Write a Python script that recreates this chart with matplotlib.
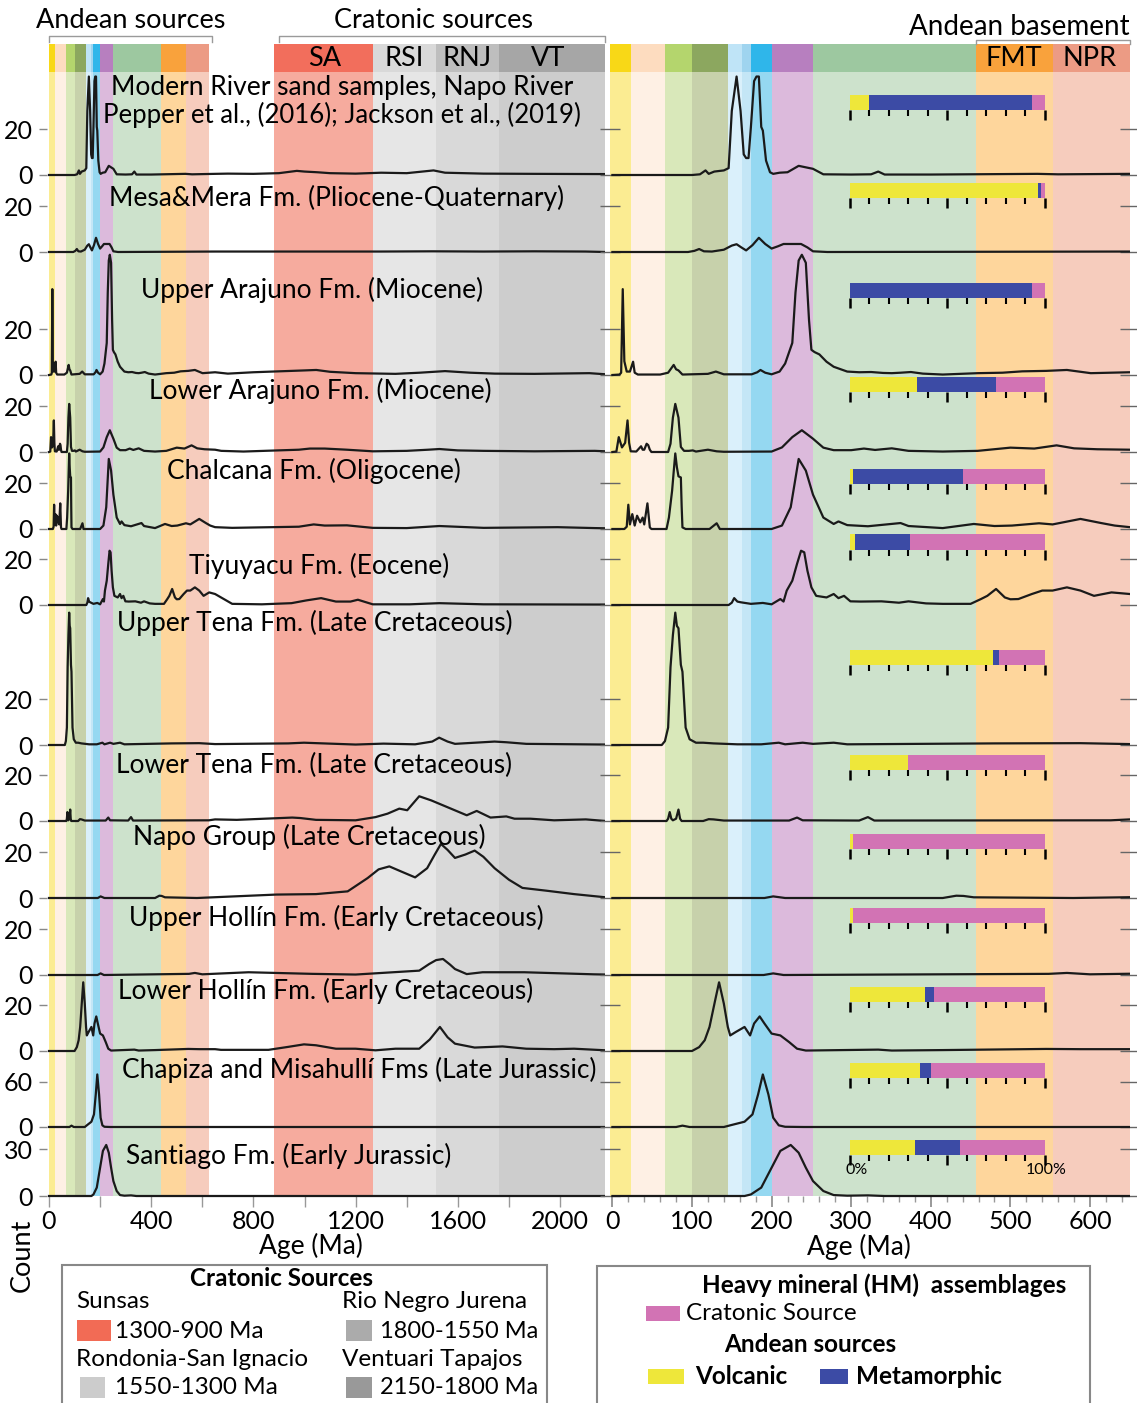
import matplotlib
matplotlib.use("Agg")
import matplotlib.pyplot as plt
from matplotlib.patches import Rectangle
from matplotlib.lines import Line2D
from matplotlib.ticker import FixedLocator

plt.rcParams['font.family'] = ['Lato', 'DejaVu Sans']

# ---------------------------------------------------------------- data
sample_labels = [
    ["Modern River sand samples, Napo River", "Pepper et al., (2016); Jackson et al., (2019)"],
    ["Mesa&Mera Fm. (Pliocene-Quaternary)"],
    ["Upper Arajuno Fm. (Miocene)"],
    ["Lower Arajuno Fm. (Miocene)"],
    ["Chalcana Fm. (Oligocene)"],
    ["Tiyuyacu Fm. (Eocene)"],
    ["Upper Tena Fm. (Late Cretaceous)"],
    ["Lower Tena Fm. (Late Cretaceous)"],
    ["Napo Group (Late Cretaceous)"],
    ["Upper Hollín Fm. (Early Cretaceous)"],
    ["Lower Hollín Fm. (Early Cretaceous)"],
    ["Chapiza and Misahullí Fms (Late Jurassic)"],
    ["Santiago Fm. (Early Jurassic)"],
]
count_ticks = [20, 20, 20, 20, 20, 20, 20, 20, 20, 20, 20, 60, 30]

modern_age = [0, 100, 110, 117, 121, 128, 140, 146, 150, 156, 161, 165, 168, 171, 174, 178, 181, 184, 187, 189, 193,
              198, 202, 210, 220, 234, 245, 252, 265, 300, 325, 334, 342, 400, 534, 560, 650, 700, 800, 900, 970,
              1000, 1050, 1100, 1200, 1300, 1400, 1505, 1550, 1700, 1900, 2180]
modern_cnt = [0, 0, 0.3, 2, 0.5, 1.5, 2, 3, 28, 43, 28, 9, 7.4, 7.4, 21, 41, 43, 43, 21, 19.4, 6.3,
              1.2, 0.5, 1, 1.2, 4, 3.2, 2.7, 0.3, 0.2, 0.3, 1.5, 0.2, 0.2, 0.5, 0.3, 0.5, 0.6, 0.5, 0.8, 1.8,
              1.5, 1.2, 0.8, 0.6, 1, 0.8, 2, 1, 0.6, 0.5, 0.4]

mesa_age = [0, 95, 103, 109, 115, 125, 140, 150, 156, 162, 168, 176, 184, 192, 200, 208, 215, 237, 245, 252, 270,
            650, 1300, 1500, 1700, 1900, 2100, 2180]
mesa_cnt = [0, 0, 0.5, 1.3, 0.3, 0.2, 1, 2.8, 3.4, 2, 0.7, 3, 6.2, 3.5, 1.5, 2.5, 3.5, 3.5, 2, 0.3, 0,
            0.2, 0.2, 0.3, 0.2, 0.3, 0.2, 0]

uarajuno_age = [0, 9, 11, 13, 15, 18, 22, 26, 28, 32, 60, 70, 77, 80, 83, 88, 120, 130, 140, 175, 182, 186, 192,
                200, 210, 217, 222, 226, 230, 234, 238, 243, 247, 250, 254, 260, 269, 278, 295, 310, 325, 340,
                351, 362, 375, 390, 415, 459, 490, 515, 545, 571, 601, 650, 700, 800, 900, 1000, 1046, 1100, 1200,
                1356, 1450, 1550, 1650, 1745, 1900, 2115, 2180]
uarajuno_cnt = [0, 0.2, 1, 37.5, 6, 1.5, 1.5, 5.8, 1, 0.2, 0.2, 1, 4.4, 2.5, 2, 0.2, 0.5, 1.5, 0.3, 0.3, 1.2, 2.2, 1,
                0.3, 1.5, 5, 10, 14, 36, 50, 52.5, 49, 24, 11, 10, 9, 5.8, 3.6, 1.5, 1.2, 1.3, 0.9,
                0.8, 1, 1.3, 0.6, 0.2, 0.8, 1, 1.6, 1.8, 2.2, 0.8, 1.2, 0.6, 1.2, 1.6, 2.0, 2.2, 1.4, 0.8,
                0.5, 1, 1.7, 1, 0.6, 0.5, 0.8, 0.3]

larajuno_age = [0, 5, 8, 12, 16, 19, 21, 23, 30, 36, 38, 40, 43, 45, 47, 49, 70, 73, 76, 79, 83, 86, 90, 96, 101,
                105, 120, 131, 140, 200, 213, 226, 238, 252, 265, 278, 300, 316, 330, 351, 372, 415, 459, 500, 530,
                558, 580, 609, 650, 674, 761, 978, 1021, 1079, 1166, 1267, 1400, 1484, 1528, 1600, 1701, 1900,
                2136, 2180]
larajuno_cnt = [0, 0.2, 6.5, 2, 4, 13.8, 4, 0.3, 0.2, 2.5, 1, 1, 3.6, 3, 1, 0, 0, 3.6, 15, 21, 15, 2.2, 0.5, 0.5, 0.7,
                0.2, 1, 0.3, 0.1, 0.2, 2, 6.5, 9.5, 5.8, 1.9, 0.8, 0.8, 1.5, 0.9, 1.6, 0.5, 0.2, 0.5, 1.9, 1.5,
                2.9, 1.6, 1.2, 1, 0.5, 0.2, 1, 1.5, 1.5, 1, 0.3, 0.5, 1, 1.3, 0.7, 0.5, 0.3,
                0.5, 0.3]

chalcana_age = [0, 15, 18, 20, 22, 25, 28, 31, 35, 38, 40, 44, 47, 49, 68, 71, 75, 77, 79, 81, 83, 86, 87, 88, 92,
                122, 131, 135, 200, 213, 224, 229, 234, 243, 252, 265, 278, 284, 295, 321, 362, 372, 415, 454, 480,
                502, 536, 553, 588, 614, 631, 650, 717, 978, 1036, 1079, 1166, 1267, 1400, 1528, 1701, 1991, 2136,
                2180]
chalcana_cnt = [0, 0, 1, 10.6, 2, 6.5, 1.5, 5.8, 2.9, 5, 2, 11.2, 0.7, 0, 0, 5, 16.7, 25, 33, 27, 23, 22.5, 10, 0.7,
                0, 0, 2.5, 0, 0, 1.5, 9.5, 20, 30.6, 25.5, 15, 5, 2.2, 3.3, 1.7, 1.2, 2.6, 1.3, 0.4, 2.2, 1.3,
                1.5, 2.5, 2, 4.4, 2.6, 1.5, 0.8, 0.5, 1, 2, 1.5, 1.6, 0.5, 0.4, 1.3, 0.5, 0.8, 0.4,
                0.3]

tiyuyacu_age = [0, 146, 150, 153, 157, 161, 174, 189, 200, 211, 215, 219, 226, 232, 237, 241, 245, 250, 256, 269,
                278, 284, 291, 299, 312, 338, 360, 372, 394, 415, 450, 463, 471, 482, 493, 500, 510, 527, 540, 553,
                571, 588, 605, 627, 650, 717, 833, 949, 1007, 1065, 1123, 1180, 1209, 1267, 1412, 1528, 1701, 2136,
                2180]
tiyuyacu_cnt = [0, 0, 1, 3, 1.5, 1.2, 0.5, 0.9, 0.3, 2.6, 1.5, 6.3, 10.6, 18, 23.7, 23, 15, 7.7, 4, 3.3,
                4.8, 3, 4, 1.6, 1.5, 1.6, 1, 1.6, 0.7, 0.5, 0.5, 2.6, 4, 7, 3.3, 2.5, 2.6, 4.8, 6.3, 6.3,
                7.7, 6.3, 4, 5.5, 4.8, 0.5, 0.3, 0.8, 2, 3, 1.5, 1.5, 2.3, 0.3, 0.3, 0.8, 0.3, 0.2,
                0.2]

utena_age = [0, 62, 66, 70, 73, 76, 79, 81, 83, 86, 88, 92, 97, 105, 114, 127, 157, 187, 209, 217, 239, 252, 278,
             295, 480, 588, 650, 936, 998, 1200, 1309, 1433, 1500, 1527, 1560, 1589, 1744, 1790, 1868, 2179]
utena_cnt = [0, 0, 1.7, 7.6, 34, 48, 57.8, 52, 51, 35, 32, 7.6, 2.5, 1, 1, 0.7, 0.3, 0.3, 1, 0.3, 1, 0.5, 1,
             0.3, 0.7, 0.8, 0.4, 0.7, 1, 0.2, 0.6, 0.3, 1.5, 3.2, 1.5, 0.5, 1.5, 1.2, 0.5, 0.2]

ltena_age = [0, 68, 70, 72, 74, 76, 80, 83, 85, 87, 114, 121, 127, 140, 222, 232, 239, 310, 321, 329, 626, 650, 735,
             952, 983, 1045, 1200, 1278, 1325, 1371, 1402, 1449, 1496, 1573, 1635, 1674, 1728, 1790, 1822, 1884,
             1977, 2101, 2179]
ltena_cnt = [0, 0, 1, 3.9, 1, 0.3, 1, 5, 1, 0, 0, 0.8, 0.7, 0.2, 0.2, 1.5, 0.3, 0.2, 1.7, 0.2, 0.3, 0.7, 0.5,
             1.5, 1.3, 0.5, 0.3, 1.7, 3.2, 5.4, 4.7, 10.8, 9, 5.4, 2.5, 4.4, 1.5, 2, 1, 1,
             0.3, 0.7, 0]

napo_age = [0, 191, 202, 217, 415, 432, 441, 454, 579, 890, 1045, 1169, 1247, 1290, 1332, 1380, 1433, 1480, 1510,
            1534, 1560, 1589, 1630, 1666, 1700, 1744, 1800, 1853, 1946, 2055, 2179]
napo_cnt = [0, 0, 0.7, 0, 0, 1, 0.9, 0.3, 0, 1.5, 1.7, 2.9, 8.7, 12.5, 13.8, 11.5, 9, 13, 19,
            23.6, 21, 17.5, 19, 20.7, 18, 13, 8, 4.4, 3.2, 1.7, 0.3]

uhollin_age = [0, 190, 202, 215, 548, 571, 600, 781, 1030, 1200, 1449, 1488, 1515, 1542, 1570, 1589, 1635, 1697,
               1860, 2132, 2180]
uhollin_cnt = [0, 0, 0.7, 0, 0.5, 0.9, 0.3, 1.2, 0.5, 0.2, 1.9, 4.8, 6.5, 7, 4.5, 2.6, 0.4, 1.2,
               1.2, 0.3, 0.2]

lhollin_age = [0, 100, 109, 116, 122, 129, 134, 140, 145, 148, 155, 166, 173, 178, 185, 191, 200, 211, 222, 232, 243,
               334, 351, 415, 545, 588, 650, 673, 766, 859, 936, 998, 1045, 1123, 1200, 1278, 1356, 1449, 1490, 1530,
               1560, 1589, 1666, 1775, 1868, 1977, 2055, 2179]
lhollin_cnt = [0, 0, 1.7, 4.7, 10.5, 22, 30, 20.7, 10.5, 6.8, 8.3, 10.5, 6.8, 12, 15.1, 12, 7.6, 6.8, 3.9, 1, 0.2,
               0.6, 0.2, 0.4, 0.9, 0.8, 0.8, 0.5, 0.5, 0.5, 1.8, 2.9, 2.5, 1, 1, 0.3, 1, 1, 5, 10.5,
               6, 3.2, 1.5, 2, 1, 0.8, 1, 0.3]

chapiza_age = [0, 80, 88, 97, 140, 148, 166, 176, 183, 189, 196, 202, 209, 217, 240, 2180]
chapiza_cnt = [0, 0, 1.8, 0, 0, 2.2, 7, 16.7, 43, 69.6, 43, 12.3, 2.2, 0.3, 0, 0]

santiago_age = [0, 166, 174, 187, 200, 211, 224, 234, 243, 252, 265, 278, 295, 321, 342, 2180]
santiago_cnt = [0, 0, 1, 5.4, 18.2, 29, 32.8, 27.8, 18.2, 9.6, 3.2, 0.6, 0.2, 0.4, 0, 0]

curves = [(modern_age, modern_cnt), (mesa_age, mesa_cnt), (uarajuno_age, uarajuno_cnt),
          (larajuno_age, larajuno_cnt), (chalcana_age, chalcana_cnt), (tiyuyacu_age, tiyuyacu_cnt),
          (utena_age, utena_cnt), (ltena_age, ltena_cnt), (napo_age, napo_cnt), (uhollin_age, uhollin_cnt),
          (lhollin_age, lhollin_cnt), (chapiza_age, chapiza_cnt), (santiago_age, santiago_cnt)]

# heavy-mineral assemblages (%)
hm_volcanic = [10.2, 96.5, 0, 34.7, 1.9, 2.8, 73.3, 29.8, 1.8, 1.9, 38.8, 36.0, 33.5]
hm_metamorphic = [83.3, 1.4, 93.5, 40.4, 56.0, 27.9, 3.2, 0, 0, 0, 4.2, 5.8, 23.2]
hm_cratonic = [6.5, 2.1, 6.5, 24.9, 42.1, 69.3, 23.5, 70.2, 98.2, 98.1, 57.0, 58.2, 43.3]

# age bands (Ma): name, start, end
left_bands = [("ng", 0, 23), ("pg", 23, 66), ("k2", 66, 100), ("k1", 100, 145), ("j3", 145, 163),
              ("j2", 163, 174), ("j1", 174, 201), ("tr", 201, 252), ("pz", 252, 440), ("fmt", 440, 535),
              ("npr", 535, 625), ("sa", 880, 1270), ("rsi", 1270, 1515), ("rnj", 1515, 1760), ("vt", 1760, 2200)]
right_bands = [("ng", -5, 23), ("pg", 23, 66), ("k2", 66, 100), ("k1", 100, 145), ("j3", 145, 163),
               ("j2", 163, 174), ("j1", 174, 201), ("tr", 201, 252), ("pz", 252, 457), ("fmt", 457, 553),
               ("npr", 553, 660)]

# ---------------------------------------------------------------- style
strip_col = {"ng": "#f8d817", "pg": "#fddcbf", "k2": "#b4d56d", "k1": "#8ca75f", "j3": "#bfe4f7",
             "j2": "#9fd4ef", "j1": "#2fb6ea", "tr": "#b77fbf", "pz": "#9dc8a0", "fmt": "#f9a23c",
             "npr": "#ec9b84", "sa": "#f26e5c", "rsi": "#d9d9d9", "rnj": "#bebebe", "vt": "#a6a6a6"}
body_col = {"ng": "#fbec92", "pg": "#fef0e4", "k2": "#d9e8ba", "k1": "#c7d1ab", "j3": "#daf0fb",
            "j2": "#c4e6f6", "j1": "#95d8f1", "tr": "#dcbadc", "pz": "#cde2cc", "fmt": "#fed69c",
            "npr": "#f6ccbd", "sa": "#f6ab9e", "rsi": "#e6e6e6", "rnj": "#d9d9d9", "vt": "#cdcdcd"}
HM_Y, HM_B, HM_P = "#eee73a", "#3c4ba5", "#d273b4"

W, H = 1137, 1403
fig = plt.figure(figsize=(W / 100, H / 100), dpi=100)


def fx(x):
    return x / W


def fy(y):
    return 1 - y / H


def px_axes(x0, x1, ytop, ybot):
    return fig.add_axes([fx(x0), fy(ybot), (x1 - x0) / W, (ybot - ytop) / H])


FS = 18        # tick labels
FS_ROW = 19    # row titles
FS_HEAD = 19.5 # headers
FS_LEG = 17.5  # legend text

baselines = [175, 252, 375, 452, 529, 605, 745, 821, 898, 975, 1051, 1127, 1196]
ppc = [2.29] * 11 + [0.755, 1.556]
label_pos = [(342, 87), (337, 198), (312, 290), (320, 391), (314, 471), (319, 566), (315, 623),
             (314, 765), (309, 837), (336, 918), (326, 991), (359, 1070), (289, 1156)]
hm_center = [102, 190, 290, 384, 477, 542, 657, 762, 841, 915, 994, 1070, 1147]

L_X0, L_X1 = 47, 605
R_X0, R_X1 = 609.6, 1130
L_XLIM = ((L_X0 - 49) / 0.2555, (L_X1 - 49) / 0.2555)
R_XLIM = ((R_X0 - 612.4) / 0.796, (R_X1 - 612.4) / 0.796)
STRIP_TOP, STRIP_BOT, BOTTOM = 44, 72, 1196

# ---------------------------------------------------------------- backgrounds
for (x0, x1, xlim, bands) in [(L_X0, L_X1, L_XLIM, left_bands), (R_X0, R_X1, R_XLIM, right_bands)]:
    bg = px_axes(x0, x1, STRIP_TOP, BOTTOM)
    bg.set_xlim(*xlim)
    bg.set_ylim(0, 1)
    sf = 1 - (STRIP_BOT - STRIP_TOP) / (BOTTOM - STRIP_TOP)
    for name, a, b in bands:
        bg.axvspan(a, b, ymin=sf, ymax=1, color=strip_col[name], lw=0)
        bg.axvspan(a, b, ymin=0, ymax=sf, color=body_col[name], lw=0)
    for s in bg.spines.values():
        s.set_visible(False)
    bg.set_yticks([])
    if bands is left_bands:
        bg.set_xticks([0, 400, 800, 1200, 1600, 2000])
        bg.xaxis.set_minor_locator(FixedLocator([200, 600, 1000, 1400, 1800]))
        bg.tick_params(axis='x', which='both', length=8, color='#999999', width=1, labelsize=FS, pad=2)
    else:
        bg.set_xticks([0, 100, 200, 300, 400, 500, 600])
        bg.xaxis.set_minor_locator(FixedLocator([v for v in range(0, 660, 20) if v % 100]))
        bg.tick_params(axis='x', which='major', length=8, color='#888888', width=1.2, labelsize=FS, pad=2)
        bg.tick_params(axis='x', which='minor', length=4, color='#999999', width=1)

fig.text(fx(311), fy(1246), "Age (Ma)", ha='center', va='center', fontsize=FS_ROW)
fig.text(fx(859), fy(1247), "Age (Ma)", ha='center', va='center', fontsize=FS_ROW)

# ---------------------------------------------------------------- rows
for i, (ages, cnts) in enumerate(curves):
    top = STRIP_BOT if i == 0 else baselines[i - 1]
    base = baselines[i]
    for side, (x0, x1, xlim) in enumerate([(L_X0, L_X1, L_XLIM), (R_X0, R_X1, R_XLIM)]):
        ax = px_axes(x0, x1, top, base + 4)
        ax.patch.set_visible(False)
        ax.set_xlim(*xlim)
        ax.set_ylim(-4 / ppc[i], (base - top) / ppc[i])
        ax.plot(ages, cnts, color='#1a1a1a', lw=1.6, solid_joinstyle='round')
        for s in ax.spines.values():
            s.set_visible(False)
        ax.set_xticks([])
        ax.set_yticks([0, count_ticks[i]])
        if side == 0:
            ax.tick_params(axis='y', length=6, color='#888888', width=1, labelsize=FS, pad=4)
        else:
            ax.tick_params(axis='y', direction='inout', length=14, color='#666666', width=1,
                           labelleft=False, right=True)
    # label
    lx, ly = label_pos[i]
    lines = sample_labels[i]
    fig.text(fx(lx), fy(ly), lines[0], ha='center', va='center', fontsize=FS_ROW)
    if len(lines) == 2:
        fig.text(fx(lx), fy(115), lines[1], ha='center', va='center', fontsize=FS_ROW - 0.5)

    # heavy mineral bar
    hb = px_axes(849.5, 1045, hm_center[i] - 7.5, hm_center[i] + 7.5)
    hb.patch.set_visible(False)
    hb.set_xlim(0, 100)
    hb.set_ylim(-0.5, 0.5)
    hb.barh(0, hm_volcanic[i], left=0, height=1, color=HM_Y, lw=0)
    hb.barh(0, hm_metamorphic[i], left=hm_volcanic[i], height=1, color=HM_B, lw=0)
    hb.barh(0, hm_cratonic[i], left=hm_volcanic[i] + hm_metamorphic[i], height=1, color=HM_P, lw=0)
    for s in hb.spines.values():
        s.set_visible(False)
    hb.set_yticks([])
    hb.set_xticks([0, 50, 100])
    hb.xaxis.set_minor_locator(FixedLocator([10, 20, 30, 40, 60, 70, 80, 90]))
    hb.tick_params(axis='x', which='major', length=7, width=1.8, color='black', labelbottom=False)
    hb.tick_params(axis='x', which='minor', length=4, width=1.5, color='black')

fig.text(fx(857), fy(1170), "0%", ha='center', va='center', fontsize=11.5)
fig.text(fx(1046), fy(1170), "100%", ha='center', va='center', fontsize=11.5)

# ---------------------------------------------------------------- top labels
for t, x in [("SA", 325), ("RSI", 404), ("RNJ", 467), ("VT", 548), ("FMT", 1014), ("NPR", 1090)]:
    fig.text(fx(x), fy(58), t, ha='center', va='center', fontsize=FS_HEAD)
fig.text(fx(131), fy(21), "Andean sources", ha='center', va='center', fontsize=FS_HEAD)
fig.text(fx(434), fy(21), "Cratonic sources", ha='center', va='center', fontsize=FS_HEAD)
fig.text(fx(1130), fy(27), "Andean basement", ha='right', va='center', fontsize=FS_HEAD + 0.5)


def bracket(x0, x1, y, yb):
    fig.add_artist(Line2D([fx(x0), fx(x0), fx(x1), fx(x1)], [fy(yb), fy(y), fy(y), fy(yb)],
                          color='#9a9a9a', lw=1))


bracket(49, 212, 36, 42)
bracket(279, 605, 36, 42)
bracket(976, 1130, 40, 44)

fig.text(fx(22), fy(1255), "Count", ha='center', va='center', rotation=90, fontsize=FS_HEAD)

# ---------------------------------------------------------------- legends
def box(x0, y0, x1, y1):
    fig.add_artist(Rectangle((fx(x0), fy(y1)), (x1 - x0) / W, (y1 - y0) / H, transform=fig.transFigure,
                             fill=False, ec='#888888', lw=1.5))


def patch(x0, y0, x1, y1, c):
    fig.add_artist(Rectangle((fx(x0), fy(y1)), (x1 - x0) / W, (y1 - y0) / H, transform=fig.transFigure,
                             fc=c, ec='none'))


box(62, 1265, 547, 1410)
fig.text(fx(281), fy(1279), "Cratonic Sources", ha='center', va='center', fontsize=FS_LEG, fontweight='bold')
fig.text(fx(76), fy(1302), "Sunsas", ha='left', va='center', fontsize=FS_LEG)
patch(77, 1320, 111, 1341, "#f26b55")
fig.text(fx(115), fy(1331), "1300-900 Ma", ha='left', va='center', fontsize=FS_LEG)
fig.text(fx(76), fy(1359), "Rondonia-San Ignacio", ha='left', va='center', fontsize=FS_LEG)
patch(80, 1377, 105, 1398, "#cccccc")
fig.text(fx(115), fy(1388), "1550-1300 Ma", ha='left', va='center', fontsize=FS_LEG)
fig.text(fx(342), fy(1302), "Rio Negro Jurena", ha='left', va='center', fontsize=FS_LEG)
patch(346, 1320, 372, 1341, "#ababab")
fig.text(fx(380), fy(1331), "1800-1550 Ma", ha='left', va='center', fontsize=FS_LEG - 0.5)
fig.text(fx(342), fy(1360), "Ventuari Tapajos", ha='left', va='center', fontsize=FS_LEG)
patch(346, 1377, 372, 1398, "#999999")
fig.text(fx(380), fy(1388), "2150-1800 Ma", ha='left', va='center', fontsize=FS_LEG - 0.5)

box(597, 1266, 1090, 1410)
fig.text(fx(884), fy(1285), "Heavy mineral (HM)  assemblages", ha='center', va='center', fontsize=FS_LEG,
         fontweight='bold')
patch(646, 1306, 680, 1321, HM_P)
fig.text(fx(686), fy(1313), "Cratonic Source", ha='left', va='center', fontsize=FS_LEG)
fig.text(fx(810), fy(1344), "Andean sources", ha='center', va='center', fontsize=FS_LEG, fontweight='bold')
patch(648, 1369, 684, 1384, HM_Y)
fig.text(fx(695), fy(1376), "Volcanic", ha='left', va='center', fontsize=FS_LEG, fontweight='bold')
patch(820, 1369, 848, 1384, HM_B)
fig.text(fx(856), fy(1376), "Metamorphic", ha='left', va='center', fontsize=FS_LEG, fontweight='bold')

fig.savefig("out.png", dpi=100)
